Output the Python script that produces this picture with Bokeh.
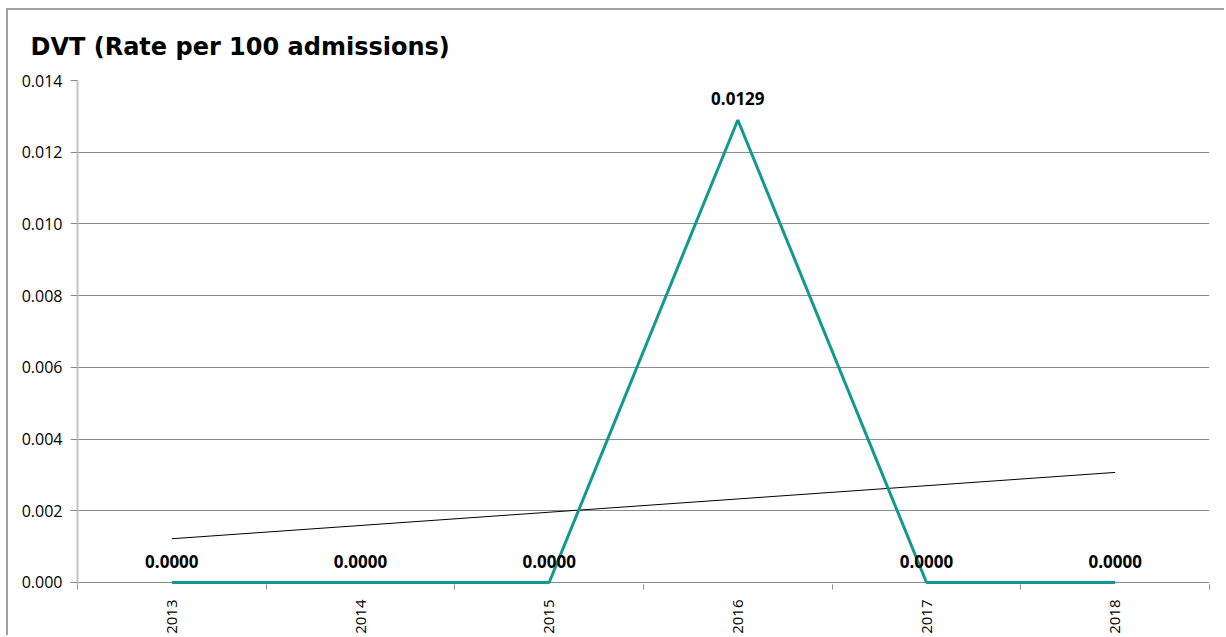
import math
from bokeh.plotting import figure
from bokeh.models import Range1d, FixedTicker, ColumnDataSource, NumeralTickFormatter
from bokeh.core.properties import value
from bokeh.embed import file_html
from bokeh.resources import INLINE

years = ["2013", "2014", "2015", "2016", "2017", "2018"]
rates = [0.0, 0.0, 0.0, 0.0129, 0.0, 0.0]
rate_labels = ["0.0000", "0.0000", "0.0000", "0.0129", "0.0000", "0.0000"]
trend_years = ["2013", "2018"]
trend_values = [0.00122, 0.00307]
y_ticks = [0.000, 0.002, 0.004, 0.006, 0.008, 0.010, 0.012, 0.014]

FONT = "Open Sans"
TITLE_FONT = "DejaVu Sans"
TEAL = "#12998f"

xs = [years.index(y) + 0.5 for y in years]
txs = [years.index(y) + 0.5 for y in trend_years]

p = figure(width=1218, height=627, output_backend="svg", toolbar_location=None,
           x_range=Range1d(0, len(years)), y_range=Range1d(-0.000056, 0.014),
           min_border_left=69, min_border_right=17, min_border_top=69, min_border_bottom=53,
           title="DVT (Rate per 100 admissions)")
p.margin = (8, 0, 0, 6)
p.styles = {"border-left": "2px solid #a0a0a0", "border-top": "2px solid #a0a0a0"}

p.title.text_font = TITLE_FONT
p.title.text_font_size = "24px"
p.title.text_font_style = "bold"
p.title.text_color = "#000000"
p.title.align = "left"
p.title.offset = -47
p.title.standoff = 40

p.outline_line_color = None
p.background_fill_color = "white"
p.border_fill_color = "white"

# axes
p.xgrid.grid_line_color = None
p.ygrid.grid_line_color = "#8c8c8c"
p.ygrid.grid_line_width = 1
p.yaxis.ticker = FixedTicker(ticks=y_ticks)
p.yaxis.formatter = NumeralTickFormatter(format="0.000")
p.yaxis.major_label_text_font = FONT
p.yaxis.major_label_text_font_size = "16px"
p.yaxis.major_label_text_color = "#000000"
p.yaxis.axis_line_color = "#c4c4c4"
p.yaxis.axis_line_width = 2
p.yaxis.major_tick_line_color = "#8c8c8c"
p.yaxis.major_tick_out = 7
p.yaxis.major_tick_in = 0
p.yaxis.minor_tick_line_color = None
p.yaxis.major_label_standoff = 8

p.xaxis.ticker = FixedTicker(ticks=xs, minor_ticks=list(range(len(years) + 1)))
p.xaxis.major_label_overrides = {x: y for x, y in zip(xs, years)}
p.xaxis.major_label_orientation = math.pi / 2
p.xaxis.major_label_text_font = FONT
p.xaxis.major_label_text_font_size = "15px"
p.xaxis.major_label_text_color = "#000000"
p.xaxis.major_tick_line_color = None
p.xaxis.major_tick_out = 6
p.xaxis.minor_tick_line_color = "#8c8c8c"
p.xaxis.minor_tick_out = 5
p.xaxis.minor_tick_in = 0
p.xaxis.axis_line_color = None
p.xaxis.major_label_standoff = 9

# data
src = ColumnDataSource(dict(x=xs, y=rates, lab=rate_labels))
p.line(txs, trend_values, line_color="#000000", line_width=1)
p.line("x", "y", source=src, line_color=TEAL, line_width=3)
p.text("x", "y", text="lab", source=src, text_font=value(FONT), text_font_style="bold",
       text_font_size="17px", text_align="center", text_baseline="alphabetic",
       y_offset=-21, text_color="#000000")

open("out.html", "w").write(file_html(p, INLINE))
